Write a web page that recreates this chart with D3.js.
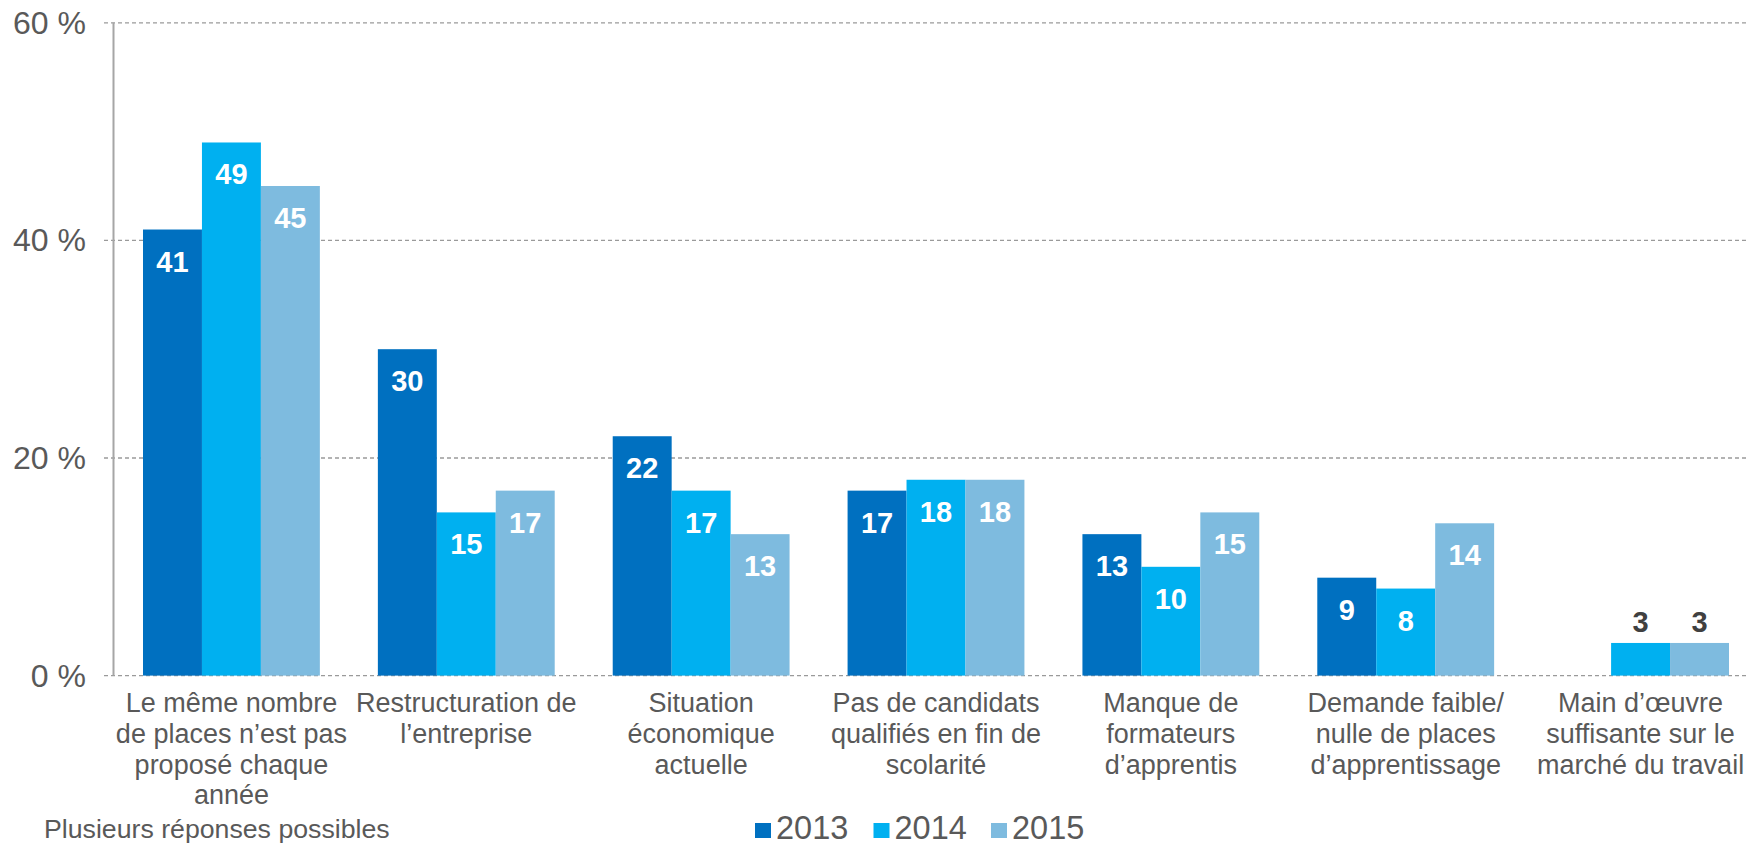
<!DOCTYPE html>
<html>
<head>
<meta charset="utf-8">
<script src="https://cdn.jsdelivr.net/npm/d3@7"></script>
<style>
  html, body { margin: 0; padding: 0; background: #fff; }
  svg { display: block; font-family: "Liberation Sans", Arial, Helvetica, sans-serif; }
</style>
</head>
<body>
<svg id="chart" width="1748" height="845"></svg>
<script>
const categories = [
  ["Le même nombre", "de places n’est pas", "proposé chaque", "année"],
  ["Restructuration de", "l’entreprise"],
  ["Situation", "économique", "actuelle"],
  ["Pas de candidats", "qualifiés en fin de", "scolarité"],
  ["Manque de", "formateurs", "d’apprentis"],
  ["Demande faible/", "nulle de places", "d’apprentissage"],
  ["Main d’œuvre", "suffisante sur le", "marché du travail"]
];
const years = ["2013", "2014", "2015"];
const values2013 = [41, 30, 22, 17, 13, 9, null];
const values2014 = [49, 15, 17, 18, 10, 8, 3];
const values2015 = [45, 17, 13, 18, 15, 14, 3];
const colors = ["#0070C0", "#00B0F0", "#7EBBDF"];
const yTicks = [0, 20, 40, 60];
const note = "Plusieurs réponses possibles";

const series = [values2013, values2014, values2015];
const svg = d3.select("#chart");

const x0 = d3.scaleBand().domain(d3.range(categories.length))
  .range([114, 1758]).paddingInner(0.247).paddingOuter(0.1235);
const x1 = d3.scaleBand().domain(years).range([0, x0.bandwidth()]);
const y = d3.scaleLinear().domain([0, 60]).range([675.6, 22.8]);

// grid lines
svg.append("g").selectAll("line").data(yTicks).join("line")
  .attr("x1", 104).attr("x2", 1748)
  .attr("y1", d => y(d)).attr("y2", d => y(d))
  .attr("stroke", "#9a9a9a").attr("stroke-width", 1.3)
  .attr("stroke-dasharray", "4,3");

// y axis line
svg.append("line").attr("x1", 113.5).attr("x2", 113.5)
  .attr("y1", y(60)).attr("y2", y(0))
  .attr("stroke", "#A6A6A6").attr("stroke-width", 2);

// y tick labels
svg.append("g").selectAll("text").data(yTicks).join("text")
  .attr("x", 86).attr("y", d => y(d) + 11)
  .attr("text-anchor", "end").attr("font-size", 32).attr("fill", "#595959")
  .text(d => d + " %");

// bars
const groups = svg.append("g").selectAll("g").data(categories).join("g")
  .attr("transform", (d, i) => `translate(${x0(i)},0)`);

years.forEach((yr, s) => {
  groups.each(function(d, i) {
    const v = series[s][i];
    if (v == null) return;
    const g = d3.select(this);
    g.append("rect")
      .attr("x", x1(yr)).attr("width", x1.bandwidth())
      .attr("y", y(v)).attr("height", y(0) - y(v))
      .attr("fill", colors[s]);
    const inside = v >= 5;
    g.append("text")
      .attr("x", x1(yr) + x1.bandwidth() / 2)
      .attr("y", inside ? y(v) + 42 : y(v) - 11)
      .attr("text-anchor", "middle")
      .attr("font-size", 29).attr("font-weight", "bold")
      .attr("fill", inside ? "#ffffff" : "#404040")
      .text(v);
  });
});

// category labels
groups.each(function(lines) {
  const t = d3.select(this).append("text")
    .attr("text-anchor", "middle").attr("font-size", 27).attr("fill", "#595959");
  lines.forEach((ln, k) => {
    t.append("tspan").attr("x", x0.bandwidth() / 2).attr("y", 712 + k * 30.8).text(ln);
  });
});

// note
svg.append("text").attr("x", 44).attr("y", 838)
  .attr("font-size", 26.7).attr("fill", "#595959").text(note);

// legend
const legendX = [755, 873.5, 991];
const lg = svg.append("g").selectAll("g").data(years).join("g")
  .attr("transform", (d, i) => `translate(${legendX[i]},0)`);
lg.append("rect").attr("x", 0).attr("y", 823).attr("width", 16).attr("height", 15)
  .attr("fill", (d, i) => colors[i]);
lg.append("text").attr("x", 21).attr("y", 839)
  .attr("font-size", 32.5).attr("fill", "#595959").text(d => d);
</script>
</body>
</html>
